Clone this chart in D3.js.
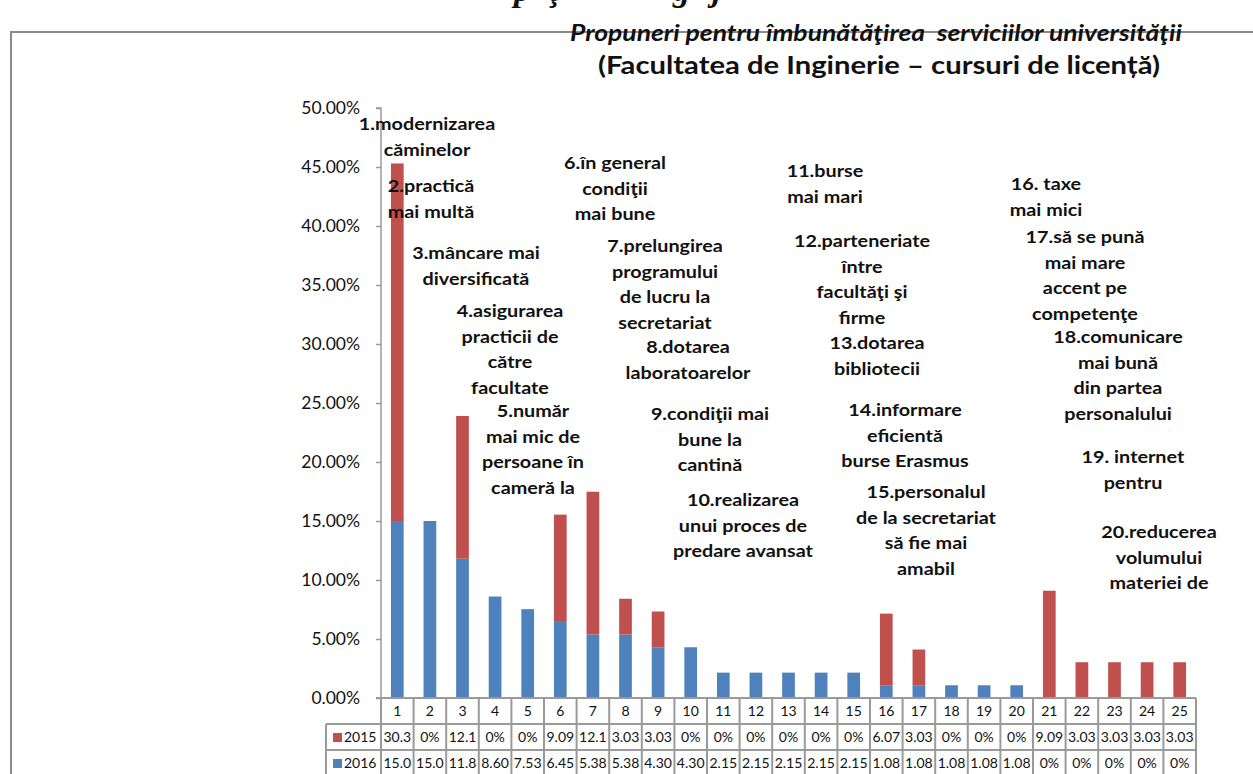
<!DOCTYPE html>
<html>
<head>
<meta charset="utf-8">
<script src="https://cdn.jsdelivr.net/npm/d3@7"></script>
<style>
  html, body { margin: 0; padding: 0; background: #fff; }
  svg { display: block; }
</style>
</head>
<body>
<svg id="chart" width="1253" height="774"></svg>
<script>
// Suggestion categories (numbered 1–25)
const categories = ["1","2","3","4","5","6","7","8","9","10","11","12","13","14","15","16","17","18","19","20","21","22","23","24","25"];

// Share of answers per suggestion, in percent
const values2015 = [30.3, 0, 12.1, 0, 0, 9.09, 12.1, 3.03, 3.03, 0, 0, 0, 0, 0, 0, 6.07, 3.03, 0, 0, 0, 9.09, 3.03, 3.03, 3.03, 3.03];
const values2016 = [15.0, 15.0, 11.8, 8.60, 7.53, 6.45, 5.38, 5.38, 4.30, 4.30, 2.15, 2.15, 2.15, 2.15, 2.15, 1.08, 1.08, 1.08, 1.08, 1.08, 0, 0, 0, 0, 0];

const seriesNames = ["2015", "2016"];
const yTicks = [0, 5, 10, 15, 20, 25, 30, 35, 40, 45, 50];

const titleLines = [
  "Propuneri pentru îmbunătăţirea  serviciilor universităţii",
  "(Facultatea de Inginerie – cursuri de licență)"
];

// Text of the suggestions written over the plot area
const notes = [
  ["1.modernizarea", "căminelor"],
  ["2.practică", "mai multă"],
  ["3.mâncare mai", "diversificată"],
  ["4.asigurarea", "practicii de", "către", "facultate"],
  ["5.număr", "mai mic de", "persoane în", "cameră la"],
  ["6.în general", "condiţii", "mai bune"],
  ["7.prelungirea", "programului", "de lucru la", "secretariat"],
  ["8.dotarea", "laboratoarelor"],
  ["9.condiţii mai", "bune la", "cantină"],
  ["10.realizarea", "unui proces de", "predare avansat"],
  ["11.burse", "mai mari"],
  ["12.parteneriate", "între", "facultăţi şi", "firme"],
  ["13.dotarea", "bibliotecii"],
  ["14.informare", "eficientă", "burse Erasmus"],
  ["15.personalul", "de la secretariat", "să fie mai", "amabil"],
  ["16. taxe", "mai mici"],
  ["17.să se pună", "mai mare", "accent pe", "competenţe"],
  ["18.comunicare", "mai bună", "din partea", "personalului"],
  ["19. internet", "pentru"],
  ["20.reducerea", "volumului", "materiei de"]
];

// Layout: centre x and first-line middle y of each note block
const notePos = [
  [427, 124], [431, 186], [476, 253], [510, 311], [533, 411],
  [615, 163], [665, 246], [688, 347], [710, 414], [743, 500],
  [825, 171], [862, 241], [877, 343], [905, 410], [926, 492],
  [1046, 184], [1085, 237], [1118, 337], [1133, 457], [1159, 532]
];
const noteLineStep = 25.8;
const textStretch = 1.2;

const colors = { "2015": "#C0504D", "2016": "#4F81BD" };
const gridGrey = "#9a9a9a";
const uiFont = "Lato, 'Open Sans', 'Liberation Sans', sans-serif";

const svg = d3.select("#chart");

// Outer frame
svg.append("path")
  .attr("d", "M11,774 V32 H1253")
  .attr("fill", "none")
  .attr("stroke", "#8a8a8a")
  .attr("stroke-width", 2);

// Descenders of the line of text above the frame
svg.append("text")
  .attr("y", 1)
  .attr("font-family", "'Liberation Serif', serif")
  .attr("font-style", "italic")
  .attr("font-weight", "bold")
  .attr("font-size", 34)
  .attr("fill", "#111")
  .selectAll("tspan")
  .data([["p", 514], ["ţ", 549], ["g", 673], ["j", 712]])
  .join("tspan")
  .attr("x", d => d[1])
  .text(d => d[0]);

// Scales
const x = d3.scaleBand()
  .domain(categories)
  .range([381, 1196])
  .paddingInner(0.61)
  .paddingOuter(0.305);

const y = d3.scaleLinear()
  .domain([0, 50])
  .range([698, 108]);

// Stacked bars: 2016 at the bottom, 2015 on top
const rows = categories.map((c, i) => ({ cat: c, "2015": values2015[i], "2016": values2016[i] }));
const stack = d3.stack().keys(["2016", "2015"]);
const layers = stack(rows);

svg.append("g")
  .selectAll("g")
  .data(layers)
  .join("g")
  .attr("fill", d => colors[d.key])
  .selectAll("rect")
  .data(d => d.filter(p => p[1] - p[0] > 0))
  .join("rect")
  .attr("x", d => x(d.data.cat))
  .attr("width", x.bandwidth())
  .attr("y", d => y(d[1]))
  .attr("height", d => y(d[0]) - y(d[1]));

// Y axis
const yAxis = d3.axisLeft(y)
  .tickValues(yTicks)
  .tickSize(5)
  .tickPadding(16)
  .tickFormat(d => d3.format(".2f")(d) + "%");

const gy = svg.append("g")
  .attr("transform", `translate(${x.range()[0]},0)`)
  .call(yAxis);
gy.select(".domain").attr("stroke", gridGrey).attr("stroke-width", 1.5)
  .attr("d", `M-5,${y(50)}H0V${y(0)}`);
gy.selectAll(".tick line").attr("stroke", gridGrey).attr("stroke-width", 1.5);
gy.selectAll(".tick text")
  .attr("font-family", uiFont)
  .attr("font-size", 17.5)
  .attr("fill", "#111");

// Data table under the plot
const step = x.step();
const left = x.range()[0];
const right = x.range()[1];
const rowTop = [698, 724, 750];
const rowH = 26;
const legendLeft = 326;

const table = svg.append("g")
  .attr("font-family", uiFont)
  .attr("font-size", 14)
  .attr("fill", "#111");

// horizontal rules
table.append("path")
  .attr("d",
    `M${left - 5},${rowTop[0]}H${right}` +
    `M${legendLeft},${rowTop[1]}H${right}` +
    `M${legendLeft},${rowTop[2]}H${right}`)
  .attr("stroke", gridGrey).attr("stroke-width", 2).attr("fill", "none");

// vertical rules
table.append("g")
  .selectAll("line")
  .data(d3.range(categories.length + 1))
  .join("line")
  .attr("x1", i => left + i * step)
  .attr("x2", i => left + i * step)
  .attr("y1", rowTop[0])
  .attr("y2", 774)
  .attr("stroke", gridGrey).attr("stroke-width", 2);

table.append("line")
  .attr("x1", legendLeft).attr("x2", legendLeft)
  .attr("y1", rowTop[1]).attr("y2", 774)
  .attr("stroke", gridGrey).attr("stroke-width", 2);

// category numbers
table.append("g")
  .selectAll("text")
  .data(categories)
  .join("text")
  .attr("x", c => x(c) + x.bandwidth() / 2)
  .attr("y", rowTop[0] + rowH / 2 + 5)
  .attr("text-anchor", "middle")
  .text(c => c);

const fmtCell = v => v === 0 ? "0%" : v.toPrecision(3);

[values2015, values2016].forEach((vals, r) => {
  const yy = rowTop[r + 1] + rowH / 2 + 5;
  const g = table.append("g");
  g.selectAll("text")
    .data(vals)
    .join("text")
    .attr("x", (v, i) => x(categories[i]) + x.bandwidth() / 2)
    .attr("y", yy)
    .attr("text-anchor", "middle")
    .text(fmtCell);
  // legend key
  g.append("rect")
    .attr("x", legendLeft + 7)
    .attr("y", yy - 9)
    .attr("width", 9)
    .attr("height", 9)
    .attr("fill", colors[seriesNames[r]]);
  g.append("text")
    .attr("x", legendLeft + 18)
    .attr("y", yy)
    .text(seriesNames[r]);
});

// Titles
const titleSpec = [
  { cx: 876, y: 41, italic: true, width: 612, size: 22 },
  { cx: 879, y: 74, italic: false, width: 562, size: 24 }
];
titleLines.forEach((t, i) => {
  const s = titleSpec[i];
  svg.append("text")
    .attr("x", s.cx - s.width / 2)
    .attr("y", s.y)
    .attr("font-family", uiFont)
    .attr("font-weight", "bold")
    .attr("font-style", s.italic ? "italic" : "normal")
    .attr("font-size", s.size)
    .attr("fill", "#111")
    .attr("textLength", s.width)
    .attr("lengthAdjust", "spacingAndGlyphs")
    .style("white-space", "pre")
    .text(t);
});

// Suggestion notes
const noteG = svg.append("g")
  .attr("font-family", uiFont)
  .attr("font-weight", "bold")
  .attr("font-size", 16.5)
  .attr("fill", "#111")
  .attr("text-anchor", "middle");

notes.forEach((lines, k) => {
  const [cx, cy] = notePos[k];
  noteG.append("text")
    .attr("transform", `translate(${cx},${cy}) scale(${textStretch},1)`)
    .selectAll("tspan")
    .data(lines)
    .join("tspan")
    .attr("x", 0)
    .attr("y", (d, j) => j * noteLineStep)
    .attr("dy", "0.35em")
    .text(d => d);
});
</script>
</body>
</html>
